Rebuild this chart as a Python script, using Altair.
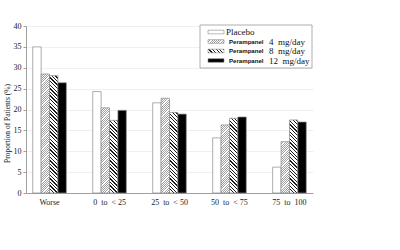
import math
import altair as alt
import pandas as pd

# ---- data ----
categories = ["Worse", "0\u00a0\u00a0to\u00a0\u00a0<\u00a025", "25\u00a0\u00a0to\u00a0\u00a0<\u00a050",
              "50\u00a0\u00a0to\u00a0\u00a0<\u00a075", "75\u00a0\u00a0to\u00a0\u00a0100"]
series = ["Placebo", "Perampanel 4 mg/day", "Perampanel 8 mg/day", "Perampanel 12 mg/day"]
placebo = [35.0, 24.3, 21.6, 13.2, 6.2]
peram4 = [28.5, 20.4, 22.7, 16.3, 12.3]
peram8 = [28.1, 17.4, 19.3, 17.9, 17.5]
peram12 = [26.4, 19.8, 18.9, 18.2, 17.0]
y_ticks = [0, 5, 10, 15, 20, 25, 30, 35, 40]

legend_brand = ["", "Perampanel", "Perampanel", "Perampanel"]
legend_dose = ["Placebo", "4\u00a0\u00a0mg/day", "8\u00a0\u00a0mg/day", "12\u00a0\u00a0mg/day"]

# ---- layout ----
W, H = 287, 167
Y_MAX = 40
K = H / Y_MAX
P_IN, P_OUT = 0.44, 0.1125
STEP = W / (len(categories) - P_IN + 2 * P_OUT)
BAR_W = STEP * (1 - P_IN) / len(series)

SERIF = "Liberation Serif"
SANS = "Liberation Sans"

# hatch styles: (period along x, line fraction, line colour, background, direction)
styles = [
    None,
    (2.2, 0.45, "#a0a0a0", "#ffffff", "/"),
    (3.6, 0.36, "#1a1a1a", "#ffffff", "\\"),
    None,
]
plain = ["#ffffff", None, None, "#000000"]


def hatch(w, h, idx):
    if styles[idx] is None:
        return plain[idx]
    period, frac, line, bg, direction = styles[idx]
    w = max(w, 0.5)
    h = max(h, 0.5)
    s = (w + h) / (w * w + h * h)
    if direction == "/":
        x1, y1, x2, y2 = 0, 0, w * s, h * s
    else:
        x1, y1, x2, y2 = 0, 1, w * s, 1 - h * s
    L = w + h
    n = math.ceil(L / period)
    stops = []
    for i in range(n):
        a = min(i * period / L, 1)
        b = min((i * period + period * frac) / L, 1)
        c = min((i + 1) * period / L, 1)
        stops += [
            {"offset": a, "color": line},
            {"offset": b, "color": line},
            {"offset": b, "color": bg},
            {"offset": c, "color": bg},
        ]
    return {"gradient": "linear", "x1": x1, "y1": y1, "x2": x2, "y2": y2, "stops": stops}


values_by_series = [placebo, peram4, peram8, peram12]
rows = []
for si, (s, vals) in enumerate(zip(series, values_by_series)):
    for c, v in zip(categories, vals):
        rows.append({"cat": c, "series": s, "value": v, "grad": hatch(BAR_W, v * K, si)})

bars = alt.Chart(alt.Data(values=rows)).mark_bar(stroke="#8a8a8a", strokeWidth=0.7).encode(
    x=alt.X("cat:N", sort=categories,
            scale=alt.Scale(paddingInner=P_IN, paddingOuter=P_OUT),
            axis=alt.Axis(title=None, labelAngle=0, ticks=False, domainColor="#a0a0a0",
                          labelFont=SERIF, labelFontSize=8, labelColor="#222",
                          labelPadding=5)),
    xOffset=alt.XOffset("series:N", sort=series,
                        scale=alt.Scale(paddingInner=0, paddingOuter=0)),
    y=alt.Y("value:Q", scale=alt.Scale(domain=[0, Y_MAX], nice=False),
            axis=alt.Axis(title="Proportion of Patients (%)", values=y_ticks,
                          titleFont=SERIF, titleFontSize=7.5, titleFontWeight="normal",
                          titleColor="#222", titleX=-15, titleY=97,
                          labelFont=SERIF, labelFontSize=8, labelColor="#222",
                          tickSize=3, tickColor="#a0a0a0", domainColor="#a0a0a0",
                          gridColor="#f0f0f0", labelPadding=2)),
    fill=alt.Fill("grad:N", scale=None),
)

# ---- hand-made legend (mixed fonts + hatched swatches) ----
ROW0, ROW_STEP = 6, 9.5
leg_rows = []
for i, s in enumerate(series):
    py = ROW0 + i * ROW_STEP
    leg_rows.append({"series": s, "py": py, "ytop": py - 1.8, "ybot": py + 1.8,
                     "brand": legend_brand[i], "dose": legend_dose[i],
                     "grad": hatch(16, 3.6, i), "first": i == 0})
leg_data = alt.Data(values=leg_rows)

box = alt.Chart(pd.DataFrame({"a": [0]})).mark_rect(fill="white", stroke="#9a9a9a", strokeWidth=0.8).encode(
    x=alt.value(174), x2=alt.value(286), y=alt.value(-1), y2=alt.value(42)
)
swatch = alt.Chart(leg_data).mark_rect(stroke="#8a8a8a", strokeWidth=0.6).encode(
    x=alt.value(182), x2=alt.value(198),
    y=alt.Y("ytop:Q", scale=None, axis=None), y2="ybot:Q",
    fill=alt.Fill("grad:N", scale=None),
)
placebo_txt = alt.Chart(leg_data).transform_filter("datum.first").mark_text(
    font=SERIF, fontSize=9, align="left", baseline="middle", color="#111").encode(
    x=alt.value(200), y=alt.Y("py:Q", scale=None, axis=None), text="dose:N")
brand_txt = alt.Chart(leg_data).transform_filter("!datum.first").mark_text(
    font=SANS, fontSize=6.1, fontWeight="bold", align="left", baseline="middle", color="#111").encode(
    x=alt.value(203), y=alt.Y("py:Q", scale=None, axis=None), text="brand:N")
dose_txt = alt.Chart(leg_data).transform_filter("!datum.first").mark_text(
    font=SERIF, fontSize=9, align="left", baseline="middle", color="#111").encode(
    x=alt.value(243), y=alt.Y("py:Q", scale=None, axis=None), text="dose:N")

chart = alt.layer(bars, box, swatch, placebo_txt, brand_txt, dose_txt).properties(
    width=W, height=H,
    padding={"left": 26, "top": 26, "right": 87, "bottom": 57},
    autosize=alt.AutoSizeParams(type="none"),
    background="white",
).configure_view(stroke=None)

chart.save("out.html", embed_options={"renderer": "svg", "actions": False})
